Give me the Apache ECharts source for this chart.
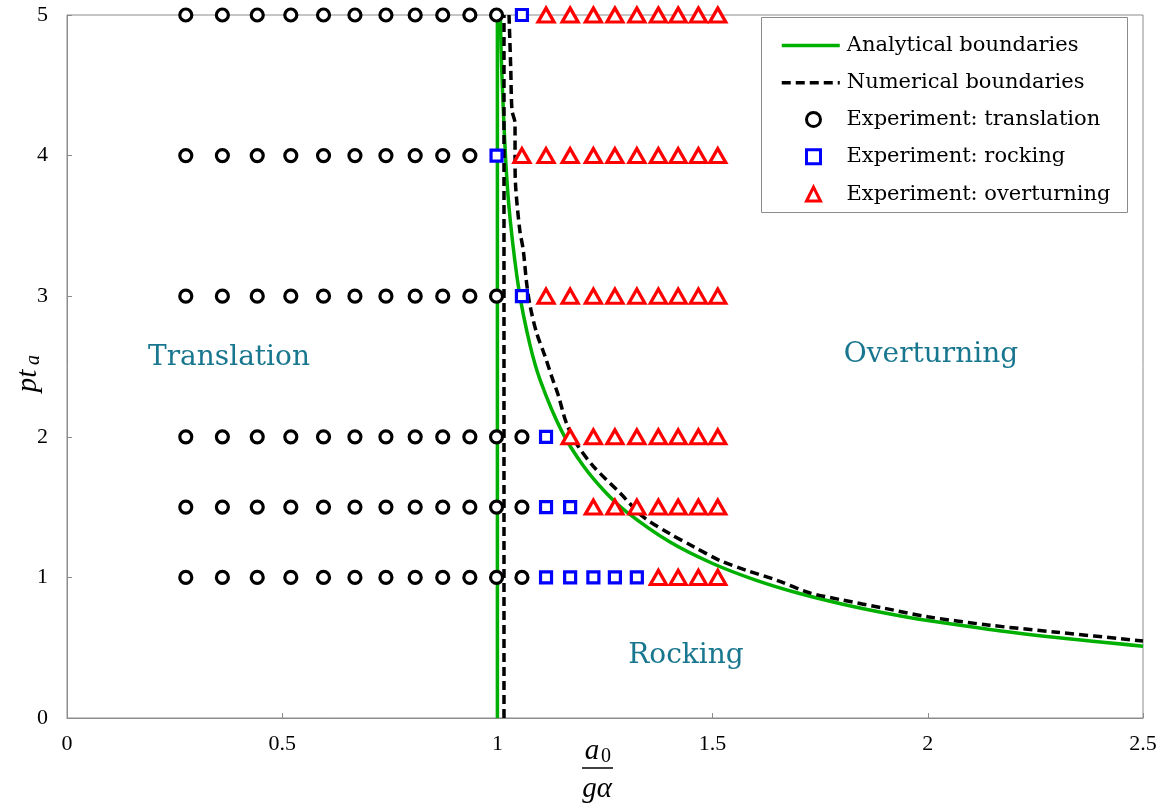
<!DOCTYPE html>
<html><head><meta charset="utf-8">
<script src="https://cdn.jsdelivr.net/npm/echarts@6/dist/echarts.min.js"></script>
<style>html,body{margin:0;padding:0;background:#fff}#c{width:1171px;height:810px}</style>
</head><body><div id="c"></div>
<script>
// ---- data ----
const xTicks = [0, 0.5, 1, 1.5, 2, 2.5];
const yTicks = [0, 1, 2, 3, 4, 5];
// experiment columns (a0 / g alpha)
const columnX = [0.276, 0.361, 0.442, 0.520, 0.596, 0.669, 0.741, 0.809, 0.873, 0.936, 0.998,
                 1.057, 1.113, 1.169, 1.223, 1.273, 1.324, 1.374, 1.420, 1.467, 1.512];
// experiment rows (p t_a)
const rowY = [5, 4, 3, 2, 1.5, 1];
const translationCount = [11, 10, 11, 12, 12, 12];
const rockingCount     = [1, 1, 1, 1, 2, 5];
// analytical boundaries
const analyticalVertical = [[1, 0], [1, 5]];
const analyticalCurve = [[1.0068, 5.0], [1.01, 4.615], [1.02, 3.93], [1.03, 3.536], [1.05, 3.045],
  [1.075, 2.663], [1.1, 2.398], [1.15, 2.037], [1.2, 1.792], [1.25, 1.609], [1.3, 1.466], [1.4, 1.253],
  [1.5, 1.099], [1.6, 0.981], [1.7, 0.887], [1.8, 0.811], [1.9, 0.747], [2.0, 0.693], [2.25, 0.588], [2.5, 0.511]];
// numerical boundaries
const numericalVertical = [[1.0153, 0], [1.0153, 5]];
const numericalCurve = [[1.027, 5.0], [1.031, 4.62], [1.034, 4.32], [1.041, 4.23], [1.041, 3.99],
  [1.042, 3.80], [1.052, 3.47], [1.060, 3.33], [1.068, 3.09], [1.076, 2.93], [1.091, 2.74],
  [1.111, 2.57], [1.126, 2.43], [1.142, 2.29], [1.160, 2.10], [1.184, 1.95], [1.223, 1.79],
  [1.285, 1.60], [1.339, 1.43], [1.401, 1.31], [1.455, 1.22], [1.517, 1.12], [1.579, 1.05],
  [1.649, 0.98], [1.726, 0.89], [1.80, 0.84], [1.90, 0.78], [2.0, 0.72], [2.144, 0.66],
  [2.3, 0.61], [2.5, 0.548]];

const names = ['Analytical boundaries', 'Numerical boundaries', 'Experiment: translation',
               'Experiment: rocking', 'Experiment: overturning'];

// build experiment points
const transPts = [], rockPts = [], overPts = [];
rowY.forEach((y, i) => {
  columnX.forEach((x, j) => {
    if (j < translationCount[i]) transPts.push([x, y]);
    else if (j < translationCount[i] + rockingCount[i]) rockPts.push([x, y]);
    else overPts.push([x, y]);
  });
});

const FONT = 'Liberation Serif';
const TFONT = 'DejaVu Serif';
const GREEN = '#00b000';
const TEAL = '#18778f';
const GRAY = '#8c8c8c';

const legendText = {fontFamily: TFONT, fontSize: 21, color: '#000'};

const chart = echarts.init(document.getElementById('c'), null, {renderer: 'canvas'});
const option = {
  animation: false,
  backgroundColor: '#fff',
  grid: {left: 67, top: 15, width: 1076, height: 703, show: true, borderColor: GRAY, borderWidth: 1, backgroundColor: 'transparent'},
  xAxis: {
    type: 'value', min: 0, max: 2.5, interval: 0.5,
    axisLine: {show: true, lineStyle: {color: GRAY, width: 1}},
    axisTick: {show: true, inside: true, length: 5, lineStyle: {color: GRAY}},
    splitLine: {show: false},
    axisLabel: {color: '#000', fontFamily: FONT, fontSize: 22, margin: 15,
      formatter: v => xTicks.includes(v) ? String(v) : ''}
  },
  yAxis: {
    type: 'value', min: 0, max: 5, interval: 1,
    axisLine: {show: true, lineStyle: {color: GRAY, width: 1}},
    axisTick: {show: true, inside: true, length: 5, lineStyle: {color: GRAY}},
    splitLine: {show: false},
    axisLabel: {color: '#000', fontFamily: FONT, fontSize: 22, margin: 19,
      formatter: v => yTicks.includes(v) ? String(v) : ''}
  },
  legend: [
    {
      data: [
        {name: names[0], itemStyle: {opacity: 0}, lineStyle: {color: GREEN, width: 3.5}},
        {name: names[1], itemStyle: {opacity: 0}, lineStyle: {color: '#000', width: 3.5, type: [9, 5]}}
      ],
      orient: 'vertical', left: 780, top: 35, padding: 0, z: 10,
      itemWidth: 58, itemHeight: 14, itemGap: 16.3,
      textStyle: Object.assign({padding: [0, 0, 0, 2]}, legendText),
      selectedMode: false
    },
    {
      data: [
        {name: names[2], itemStyle: {color: '#fff', borderColor: '#000', borderWidth: 3}},
        {name: names[3], itemStyle: {color: '#fff', borderColor: '#0000ff', borderWidth: 3}},
        {name: names[4], itemStyle: {color: '#fff', borderColor: '#ff0000', borderWidth: 3}}
      ],
      orient: 'vertical', left: 805, top: 109, padding: 0, z: 10,
      itemWidth: 14, itemHeight: 14, itemGap: 16.3,
      textStyle: Object.assign({padding: [0, 0, 0, 21]}, legendText),
      selectedMode: false
    }
  ],
  series: [
    {name: names[0], type: 'line', data: analyticalVertical, symbol: 'none', z: 2,
     lineStyle: {color: GREEN, width: 3.5}, itemStyle: {color: GREEN}},
    {name: names[0], type: 'line', data: analyticalCurve, symbol: 'none', smooth: 0.3, z: 2,
     lineStyle: {color: GREEN, width: 3.5}, itemStyle: {color: GREEN}},
    {name: names[1], type: 'line', data: numericalVertical, symbol: 'none', z: 3,
     lineStyle: {color: '#000', width: 3.5, type: [9, 5]}, itemStyle: {color: '#000'}},
    {name: names[1], type: 'line', data: numericalCurve, symbol: 'none', smooth: 0.3, z: 3,
     lineStyle: {color: '#000', width: 3.5, type: [9, 5]}, itemStyle: {color: '#000'}},
    {name: names[2], type: 'scatter', data: transPts, symbol: 'circle', symbolSize: 12, z: 5,
     itemStyle: {color: '#fff', borderColor: '#000', borderWidth: 3.2, opacity: 1}},
    {name: names[3], type: 'scatter', data: rockPts, symbol: 'rect', symbolSize: 11, z: 5,
     itemStyle: {color: '#fff', borderColor: '#0000ff', borderWidth: 3.2, opacity: 1}},
    {name: names[4], type: 'scatter', data: overPts, symbol: 'triangle', symbolSize: [16, 14], z: 5,
     itemStyle: {color: '#fff', borderColor: '#ff0000', borderWidth: 3.2, opacity: 1}}
  ],
  graphic: [
    {type: 'rect', z: 1, shape: {x: 761.5, y: 17.5, width: 366, height: 195}, style: {fill: '#fff', stroke: GRAY, lineWidth: 1}},
    {type: 'text', x: 229, y: 358, z: 10, style: {text: 'Translation', fill: TEAL, font: '28px "' + TFONT + '"', textAlign: 'center', textVerticalAlign: 'middle'}},
    {type: 'text', x: 931, y: 355, z: 10, style: {text: 'Overturning', fill: TEAL, font: '28px "' + TFONT + '"', textAlign: 'center', textVerticalAlign: 'middle'}},
    {type: 'text', x: 686, y: 656, z: 10, style: {text: 'Rocking', fill: TEAL, font: '28px "' + TFONT + '"', textAlign: 'center', textVerticalAlign: 'middle'}},
    // y axis name: p t_a (rotated)
    {type: 'group', x: 28, y: 374, rotation: Math.PI / 2, children: [
      {type: 'text', x: -7, y: 0, style: {text: 'pt', fill: '#000', font: 'italic 29px "' + FONT + '"', textAlign: 'center', textVerticalAlign: 'middle'}},
      {type: 'text', x: 14, y: 6, style: {text: 'a', fill: '#000', font: 'italic 20px "' + FONT + '"', textAlign: 'center', textVerticalAlign: 'middle'}}
    ]},
    // x axis name: a_0 / (g alpha)
    {type: 'text', x: 592, y: 751, style: {text: 'a', fill: '#000', font: 'italic 29px "' + FONT + '"', textAlign: 'center', textVerticalAlign: 'middle'}},
    {type: 'text', x: 606, y: 757, style: {text: '0', fill: '#000', font: '20px "' + FONT + '"', textAlign: 'center', textVerticalAlign: 'middle'}},
    {type: 'line', shape: {x1: 582, y1: 768, x2: 613, y2: 768}, style: {stroke: '#000', lineWidth: 1.5}},
    {type: 'text', x: 597, y: 789, style: {text: 'gα', fill: '#000', font: 'italic 29px "' + FONT + '"', textAlign: 'center', textVerticalAlign: 'middle'}}
  ]
};
chart.setOption(option);
</script>
</body></html>
